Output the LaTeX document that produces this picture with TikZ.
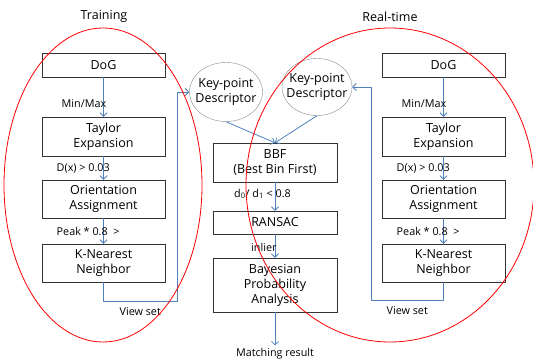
\documentclass[tikz,border=0pt]{standalone}
\usepackage{fontspec}
\setmainfont{Open Sans}
\usetikzlibrary{shapes.geometric,arrows.meta}
\definecolor{flowblue}{RGB}{79,129,189}

% one SIFT column: #1 = name suffix, #2 = centre x
\newcommand{\makecolumn}[2]{
    \node (dog#1) at (#2,65) [box,minimum height=24pt] {DoG};
    \node (taylor#1) at (#2,136.5) [box,minimum height=39pt] {Taylor\\Expansion};
    \node (orient#1) at (#2,199) [box,minimum height=38pt] {Orientation\\Assignment};
    \node (knn#1) at (#2,263) [box,minimum height=38pt] {K-Nearest\\Neighbor};
    \draw[flow] (dog#1) -- (taylor#1);
    \draw[flow] (taylor#1) -- (orient#1);
    \draw[flow] (orient#1) -- (knn#1);
    \node (minmax#1) at (#2-42,104) [lbl,anchor=west] {Min/Max};
    \node (dx#1) at (#2-47,168) [lbl,anchor=west] {D(x) > 0.03};
    \node (peak#1) at (#2-47,231) [lbl,anchor=west] {Peak * 0.8~~>};
}

\begin{document}
\begin{tikzpicture}[x=1pt,y=-1pt,
    box/.style={draw=black!80,fill=white,minimum width=123pt,align=center,inner sep=1pt,
        font=\fontsize{12.5}{15}\selectfont},
    keypt/.style={ellipse,draw=black!45,fill=white,align=center,inner xsep=-6pt,inner ysep=0pt,
        minimum width=73pt,minimum height=59pt,font=\fontsize{12.5}{15}\selectfont},
    flow/.style={draw=flowblue,line width=0.8pt,-{Straight Barb[length=3.5pt,width=7pt]}},
    lbl/.style={inner sep=0pt,font=\fontsize{10.8}{13}\selectfont},
    title/.style={inner sep=0pt,font=\fontsize{12.5}{15}\selectfont},
    zone/.style={draw=red,line width=0.8pt}]

\useasboundingbox (0,0) rectangle (533,361);

\makecolumn{L}{103.5}
\makecolumn{R}{443.5}

% matching part
\node (kpL) at (226,92) [keypt] {Key-point\\Descriptor};
\node (kpR) at (317,87) [keypt,minimum width=70pt,minimum height=57pt] {Key-point\\Descriptor};
\node (bbf) at (275,162.5) [box,minimum width=124pt,minimum height=39pt] {BBF\\(Best Bin First)};
\node (ransac) at (275,222.5) [box,minimum width=124pt,minimum height=23pt] {RANSAC};
\node (bayes) at (275,285) [box,minimum width=124pt,minimum height=54pt] {Bayesian\\Probability\\Analysis};
\node (result) at (275,354) [lbl,inner sep=3pt] {Matching result};

\draw[flow] (kpL.south) -- (bbf.north);
\draw[flow] (kpR.south) -- (bbf.north);
\draw[flow] (bbf) -- (ransac);
\draw[flow] (ransac) -- (bayes);
\draw[flow] (bayes) -- (result);
\node (ratio) at (234,194) [lbl,anchor=west] {d\textsubscript{0}/ d\textsubscript{1} < 0.8};
\node (inlier) at (251,247) [lbl,anchor=west] {inlier};

% view sets back to the descriptors
\coordinate (viewL) at (177,301);
\coordinate (viewR) at (371,300);
\draw[flow] (knnL.south) |- node[lbl,pos=0.75,below=6pt] {View set} (viewL) |- (kpL.west);
\draw[flow] (knnR.south) |- node[lbl,pos=0.75,below=6pt] {View set} (viewR) |- (kpR.east);

% the two phases
\node (training) at (104,16) [title] {Training};
\node (realtime) at (390,17) [title] {Real-time};
\draw[zone] (103,185) ellipse [x radius=99pt,y radius=157pt];
\draw[zone] (390,185) ellipse [x radius=144pt,y radius=157pt];
\end{tikzpicture}
\end{document}
